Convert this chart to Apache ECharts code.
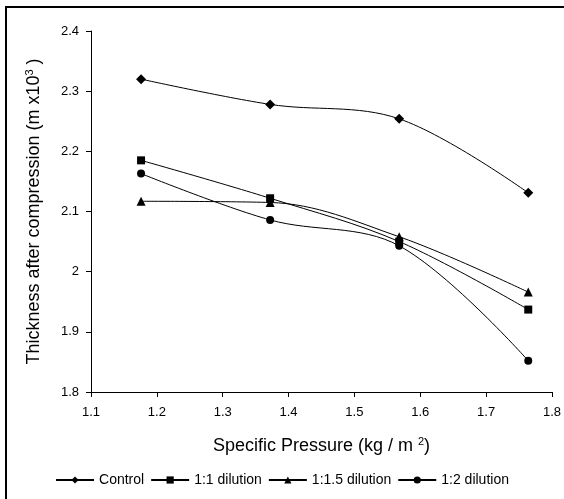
<!DOCTYPE html>
<html>
<head>
<meta charset="utf-8">
<script src="https://cdn.jsdelivr.net/npm/echarts@6/dist/echarts.min.js"></script>
<style>
  html, body { margin: 0; padding: 0; background: #fff; }
  #chart { width: 564px; height: 499px; }
</style>
</head>
<body>
<div id="chart"></div>
<script>
// pressure values (kg / m2)
const pressure = [1.176, 1.372, 1.568, 1.764];

// thickness after compression (m x10^3)
const control = [2.320, 2.278, 2.254, 2.131];
const dil11 = [2.185, 2.122, 2.050, 1.937];
const dil115 = [2.117, 2.115, 2.058, 1.966];
const dil12 = [2.163, 2.086, 2.043, 1.852];

const seriesNames = ['Control', '1:1 dilution', '1:1.5 dilution', '1:2 dilution'];
const seriesData = [control, dil11, dil115, dil12];
const symbols = ['diamond', 'rect', 'triangle', 'circle'];
const symbolSizes = [10, 8, 9, 8];

const font = 'Liberation Sans, Arial, sans-serif';

const chart = echarts.init(document.getElementById('chart'));
chart.setOption({
    animation: false,
    backgroundColor: '#fff',
    graphic: [{
        type: 'rect',
        shape: { x: 6, y: 7, width: 600, height: 600 },
        style: { fill: 'none', stroke: '#000', lineWidth: 2 }
    }],
    grid: { left: 91, right: 8, top: 31, bottom: 107 },
    legend: {
        bottom: 7,
        left: 'center',
        itemWidth: 38,
        itemHeight: 9,
        itemGap: 6,
        textStyle: { fontFamily: font, fontSize: 14, color: '#000' },
        data: seriesNames
    },
    xAxis: {
        type: 'value',
        min: 1.1,
        max: 1.8,
        interval: 0.1,
        name: '{a|Specific Pressure (kg / m }{s|2}{a|)}',
        nameLocation: 'middle',
        nameGap: 44,
        nameTextStyle: {
            rich: {
                a: { fontFamily: font, fontSize: 18, color: '#000' },
                s: { fontFamily: font, fontSize: 11, color: '#000', verticalAlign: 'top', padding: [0, 0, 9, 0] }
            }
        },
        axisLine: { lineStyle: { color: '#000', width: 1 } },
        axisTick: { inside: false, length: 5, lineStyle: { color: '#000' } },
        axisLabel: { fontFamily: font, fontSize: 13, color: '#000', margin: 14 },
        splitLine: { show: false }
    },
    yAxis: {
        type: 'value',
        min: 1.8,
        max: 2.4,
        interval: 0.1,
        name: '{a|Thickness after compression (m x10}{s|3}{a| )}',
        nameLocation: 'middle',
        nameRotate: 90,
        nameGap: 47,
        nameTextStyle: {
            rich: {
                a: { fontFamily: font, fontSize: 18, color: '#000' },
                s: { fontFamily: font, fontSize: 11, color: '#000', verticalAlign: 'top', padding: [0, 0, 9, 0] }
            }
        },
        axisLine: { show: true, lineStyle: { color: '#000', width: 1 } },
        axisTick: { show: true, inside: false, length: 5, lineStyle: { color: '#000' } },
        axisLabel: { fontFamily: font, fontSize: 13, color: '#000', margin: 12 },
        splitLine: { show: false }
    },
    series: seriesNames.map((name, i) => ({
        name: name,
        type: 'line',
        smooth: 0.35,
        data: pressure.map((p, j) => [p, seriesData[i][j]]),
        symbol: symbols[i],
        symbolSize: symbolSizes[i],
        itemStyle: { color: '#000' },
        lineStyle: { color: '#000', width: 1 }
    }))
});
</script>
</body>
</html>
